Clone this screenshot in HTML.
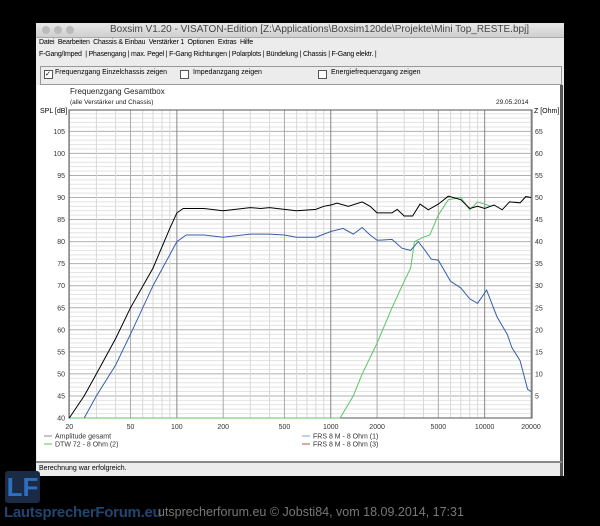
<!DOCTYPE html>
<html><head><meta charset="utf-8"><style>
html,body{margin:0;padding:0;background:#000;width:600px;height:526px;overflow:hidden;font-family:"Liberation Sans",sans-serif}
.a{position:absolute;white-space:nowrap}
</style></head><body>
<div class="a" style="left:36px;top:23px;width:528px;height:453px;background:#ececec"></div>
<div class="a" style="left:36px;top:23px;width:528px;height:14px;background:linear-gradient(#e8e8e8,#cfcfcf);border-bottom:1px solid #aaa"></div>
<div class="a" style="left:42px;top:26px;width:8px;height:8px;border-radius:50%;background:#bbb"></div>
<div class="a" style="left:54px;top:26px;width:8px;height:8px;border-radius:50%;background:#bbb"></div>
<div class="a" style="left:66px;top:26px;width:8px;height:8px;border-radius:50%;background:#bbb"></div>
<div class="a" style="left:110px;top:24px;font-size:10px;color:#444">Boxsim V1.20 - VISATON-Edition [Z:\Applications\Boxsim120de\Projekte\Mini Top_RESTE.bpj]</div>
<div class="a" style="left:39px;top:39px;font-size:7px;color:#000;letter-spacing:-0.2px">Datei&nbsp; Bearbeiten&nbsp; Chassis &amp; Einbau&nbsp; Verstärker 1&nbsp; Optionen&nbsp; Extras&nbsp; Hilfe</div>
<div class="a" style="left:39px;top:51px;font-size:7px;color:#000;letter-spacing:-0.2px">F-Gang/Imped&nbsp; | Phasengang | max. Pegel | F-Gang Richtungen | Polarplots | Bündelung | Chassis | F-Gang elektr. |</div>
<div class="a" style="left:40px;top:66px;width:520px;height:17px;border:1px solid #999;background:#ececec"></div>
<div class="a" style="left:44px;top:70px;width:7px;height:7px;border:1px solid #555;background:#fff;font-size:7px;line-height:7px">✓</div>
<div class="a" style="left:55px;top:69px;font-size:7px">Frequenzgang Einzelchassis zeigen</div>
<div class="a" style="left:180px;top:70px;width:7px;height:7px;border:1px solid #555;background:#fff"></div>
<div class="a" style="left:193px;top:69px;font-size:7px">Impedanzgang zeigen</div>
<div class="a" style="left:318px;top:70px;width:7px;height:7px;border:1px solid #555;background:#fff"></div>
<div class="a" style="left:331px;top:69px;font-size:7px">Energiefrequenzgang zeigen</div>
<div class="a" style="left:37px;top:85px;width:525px;height:376px;background:#fff"></div>
<div class="a" style="left:560px;top:85px;width:3px;height:391px;background:#555"></div>
<div class="a" style="left:36px;top:461px;width:526px;height:2px;background:#888"></div>
<div class="a" style="left:39px;top:465px;font-size:7px">Berechnung war erfolgreich.</div>
<div class="a" style="left:70px;top:87px;font-size:8px;color:#222">Frequenzgang Gesamtbox</div>
<div class="a" style="left:70px;top:99px;font-size:6.5px;color:#222">(alle Verstärker und Chassis)</div>
<div class="a" style="left:496px;top:99px;font-size:6.5px;color:#222">29.05.2014</div>
<div class="a" style="left:40px;top:108px;font-size:7px">SPL [dB]</div>
<div class="a" style="left:534px;top:108px;font-size:7px">Z [Ohm]</div>
<svg class="a" style="left:0;top:0" width="600" height="526" id="s"></svg>
<div class="a" style="left:5px;top:471px;width:35px;height:32px;background:#1b2b45;border-radius:3px;color:#2d6fc0;font-weight:bold;font-size:26px;line-height:32px;text-align:center">LF</div>
<div class="a" style="left:4px;top:504px;font-size:15px;font-weight:bold;color:#21456f;letter-spacing:-0.3px">LautsprecherForum.eu</div>
<div class="a" style="left:158px;top:505px;font-size:12.5px;color:#777">utsprecherforum.eu © Jobsti84, vom 18.09.2014, 17:31</div>
<script>
var X0=69.3,D=153.9,Y0=418,K=4.41;
function fx(f){return X0+D*Math.log10(f/20)}
function fy(d){return Y0-(d-40)*K}
var s='';
// grid
for(var d=40;d<=109;d++){var y=fy(d);s+='<line x1="69" x2="532" y1="'+y+'" y2="'+y+'" stroke="'+(d%5?'#e3e3e3':'#b0b0b0')+'" stroke-width="1"/>';}
var dec=[10,100,1000,10000];
dec.forEach(function(b){for(var m=1;m<10;m++){var f=b*m;if(f<20||f>20000)continue;var x=fx(f);var major=(m==1||m==2||m==5);s+='<line x1="'+x+'" x2="'+x+'" y1="110" y2="418" stroke="'+(m==1?'#888':major?'#aaa':'#d8d8d8')+'"/>';}});
s+='<rect x="69" y="110" width="463" height="308" fill="none" stroke="#555"/>';
for(var d=40;d<=105;d+=5){var y=fy(d);s+='<text x="65" y="'+(y+2.5)+'" font-size="7" text-anchor="end" fill="#333" font-family="Liberation Sans">'+d+'</text>';if(d>40)s+='<text x="535" y="'+(y+2.5)+'" font-size="7" fill="#333" font-family="Liberation Sans">'+(d-40)+'</text>';}
[20,50,100,200,500,1000,2000,5000,10000,20000].forEach(function(f){s+='<text x="'+fx(f)+'" y="429" font-size="7" text-anchor="middle" fill="#333" font-family="Liberation Sans">'+f+'</text>';});
function path(p,c){var d='';p.forEach(function(q,i){d+=(i?'L':'M')+fx(q[0]).toFixed(1)+','+fy(q[1]).toFixed(1);});s+='<path d="'+d+'" fill="none" stroke="'+c+'" stroke-width="1"/>';}
path([[1150,40],[1400,45],[1600,50],[2000,57],[2500,65],[3000,71],[3300,74],[3500,80],[4000,81],[4400,81.5],[5000,86],[5800,89.5],[7000,90],[8000,87.2],[9000,89],[10000,88.5],[11000,88]],'#5cc46a');
path([[20,40],[40,40],[1150,40]],'#5cc46a');
path([[25,40],[30,45],[40,52],[50,59],[70,70],[90,77],[100,80],[115,81.5],[150,81.5],[200,81],[300,81.7],[400,81.7],[500,81.5],[600,81],[800,81],[1000,82.3],[1200,83],[1400,81.7],[1600,83.2],[1800,81.5],[2000,80.3],[2500,80.5],[2900,78.5],[3300,78],[3700,80],[4100,78],[4500,76],[5000,75.8],[6000,71],[7000,69.5],[8000,67],[9000,66],[10300,69],[12000,63],[14000,59],[15000,56],[17000,53],[19000,46.5],[20000,46]],'#3a5ea8');
path([[20,40],[25,45],[30,50],[40,58],[50,65],[70,74],[90,83],[100,86.5],[110,87.5],[150,87.5],[200,87],[300,87.7],[350,87.5],[400,87.7],[500,87.3],[600,87],[800,87.3],[900,88],[1000,88.3],[1100,88.7],[1300,88],[1600,89],[1800,88],[2000,86.5],[2500,86.5],[2700,87.3],[3000,85.8],[3400,85.8],[3800,88.5],[4300,87.2],[5000,88.5],[5800,90.3],[7000,89.5],[8000,87.5],[9000,88],[10000,87.5],[11500,88.3],[13000,87.2],[14500,89],[17000,88.8],[18500,90.2],[20000,90]],'#000');
function leg(x,y,c,t){s+='<line x1="'+x+'" x2="'+(x+8)+'" y1="'+y+'" y2="'+y+'" stroke="'+c+'"/><text x="'+(x+11)+'" y="'+(y+2.5)+'" font-size="7" fill="#333" font-family="Liberation Sans">'+t+'</text>';}
leg(44,436,'#888','Amplitude gesamt');leg(44,444,'#5cc46a','DTW 72 - 8 Ohm (2)');
leg(302,436,'#7d9fd8','FRS 8 M - 8 Ohm (1)');leg(302,444,'#a0604a','FRS 8 M - 8 Ohm (3)');
document.getElementById('s').innerHTML=s;
</script>
</body></html>
